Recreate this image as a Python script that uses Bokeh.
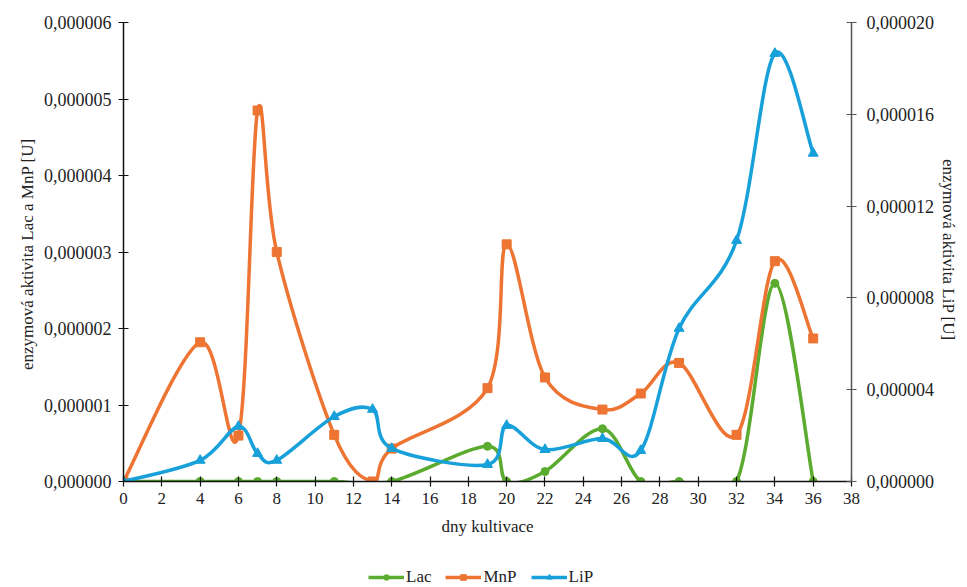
from bokeh.plotting import figure
from bokeh.layouts import column
from bokeh.models import (Range1d, LinearAxis, FixedTicker, CustomJSTickFormatter,
                          Legend, LegendItem, ColumnDataSource)
from bokeh.embed import file_html
from bokeh.resources import INLINE

# ---- data ----
days_lac = [0, 4, 6, 7, 8, 11, 14, 19, 20, 22, 25, 27, 29, 32, 34, 36]
lac = [0, 0, 0, 0, 0, 0, 0, 0.46e-6, 0, 0.13e-6, 0.69e-6, 0, 0, 0, 2.59e-6, 0]

days_mnp = [0, 4, 6, 7, 8, 11, 13, 14, 19, 20, 22, 25, 27, 29, 32, 34, 36]
mnp = [0, 1.82e-6, 0.60e-6, 4.85e-6, 3.00e-6, 0.61e-6, 0, 0.43e-6, 1.22e-6, 3.10e-6,
       1.36e-6, 0.94e-6, 1.15e-6, 1.55e-6, 0.61e-6, 2.88e-6, 1.87e-6]

days_lip = [0, 4, 6, 7, 8, 11, 13, 14, 19, 20, 22, 25, 27, 29, 32, 34, 36]
lip = [0, 0.92e-6, 2.40e-6, 1.22e-6, 0.92e-6, 2.83e-6, 3.14e-6, 1.44e-6, 0.74e-6, 2.44e-6,
       1.39e-6, 1.87e-6, 1.35e-6, 6.67e-6, 10.5e-6, 18.65e-6, 14.3e-6]

series_names = ["Lac", "MnP", "LiP"]

x_ticks = list(range(0, 39, 2))
left_ticks = [0, 1e-6, 2e-6, 3e-6, 4e-6, 5e-6, 6e-6]
right_ticks = [0, 4e-6, 8e-6, 12e-6, 16e-6, 20e-6]

C_LAC = "#5aab2e"
C_MNP = "#ed7432"
C_LIP = "#17a0d9"
FONT = "Liberation Serif"


def bezier_source(xs, ys):
    """Excel-style smoothed curve: cubic Bezier segments through the points."""
    n = len(xs)
    d = dict(x0=[], y0=[], x1=[], y1=[], cx0=[], cy0=[], cx1=[], cy1=[])
    for i in range(n - 1):
        a = i - 1 if i > 0 else i
        b = i + 2 if i + 2 < n else i + 1
        d["x0"].append(xs[i]); d["y0"].append(ys[i])
        d["x1"].append(xs[i + 1]); d["y1"].append(ys[i + 1])
        d["cx0"].append(xs[i] + (xs[i + 1] - xs[a]) / 6)
        d["cy0"].append(ys[i] + (ys[i + 1] - ys[a]) / 6)
        d["cx1"].append(xs[i + 1] - (xs[b] - xs[i]) / 6)
        d["cy1"].append(ys[i + 1] - (ys[b] - ys[i]) / 6)
    return ColumnDataSource(d)


p = figure(frame_width=728, frame_height=459, output_backend="svg", toolbar_location=None,
           x_range=Range1d(0, 38), y_range=Range1d(0, 6e-6),
           min_border_left=123, min_border_right=116, min_border_top=22,
           min_border_bottom=60)
p.outline_line_color = None
p.grid.visible = False
p.background_fill_color = "white"
p.border_fill_color = "white"

p.extra_y_ranges = {"lip": Range1d(0, 2e-5)}

fmt = CustomJSTickFormatter(code="return tick.toFixed(6).replace('.', ',');")


def style_axis(ax, color, label_size):
    ax.axis_line_color = color
    ax.major_tick_line_color = color
    ax.axis_line_width = 1.5
    ax.major_tick_line_width = 1.2
    ax.major_tick_in = 5
    ax.major_tick_out = 5
    ax.minor_tick_line_color = None
    ax.major_label_text_font = FONT
    ax.major_label_text_font_size = label_size
    ax.major_label_text_color = "#222222"
    ax.axis_label_text_font = FONT
    ax.axis_label_text_font_size = "17px"
    ax.axis_label_text_font_style = "normal"
    ax.axis_label_text_color = "#222222"


xa = p.xaxis[0]
xa.ticker = FixedTicker(ticks=x_ticks)
xa.axis_label = "dny kultivace"
style_axis(xa, "#111111", "17px")
xa.axis_label_standoff = 10
xa.major_label_standoff = 6

ya = p.yaxis[0]
ya.ticker = FixedTicker(ticks=left_ticks)
ya.formatter = fmt
ya.axis_label = "enzymová aktivita  Lac a MnP [U]"
style_axis(ya, "#111111", "18px")
ya.axis_label_standoff = 4
ya.major_label_standoff = 7

ra = LinearAxis(y_range_name="lip", ticker=FixedTicker(ticks=right_ticks), formatter=fmt,
                axis_label="enzymová aktivita  LiP [U]")
style_axis(ra, "#555555", "18px")
ra.axis_label_standoff = 2
ra.major_label_standoff = 10
p.add_layout(ra, "right")

specs = [
    (days_lac, lac, C_LAC, "circle", 8, "default"),
    (days_mnp, mnp, C_MNP, "square", 9, "default"),
    (days_lip, lip, C_LIP, "triangle", 10, "lip"),
]
for xs, ys, col, marker, size, rng in specs:
    src = bezier_source(xs, ys)
    p.bezier(x0="x0", y0="y0", x1="x1", y1="y1", cx0="cx0", cy0="cy0",
             cx1="cx1", cy1="cy1", source=src, line_color=col, line_width=3.5,
             line_cap="round", y_range_name=rng)
    p.scatter(xs, ys, marker=marker, size=size, fill_color=col, line_color=col,
              y_range_name=rng)

# ---- legend strip below the chart ----
lg = figure(width=967, height=46, output_backend="svg", toolbar_location=None,
            x_range=Range1d(0, 1), y_range=Range1d(0, 1),
            min_border_left=0, min_border_right=0, min_border_top=0, min_border_bottom=0)
lg.axis.visible = False
lg.grid.visible = False
lg.outline_line_color = None
lg.border_fill_color = "white"

items = []
for (xs, ys, col, marker, size, rng), name in zip(specs, series_names):
    lr = lg.line([-5, -4], [-5, -5], line_color=col, line_width=3.5)
    sr = lg.scatter([-5], [-5], marker=marker, size=size - 1, fill_color=col, line_color=col)
    items.append(LegendItem(label=name, renderers=[lr, sr]))

legend = Legend(items=items, orientation="horizontal", location=(245, 0),
                label_text_font=FONT, label_text_font_size="17px",
                label_text_color="#222222", border_line_color=None,
                background_fill_alpha=0, glyph_width=36, glyph_height=14,
                spacing=14, label_standoff=2, margin=0, padding=2)
lg.add_layout(legend, "center")

layout = column(p, lg, spacing=0)
open("out.html", "w").write(file_html(layout, INLINE))
